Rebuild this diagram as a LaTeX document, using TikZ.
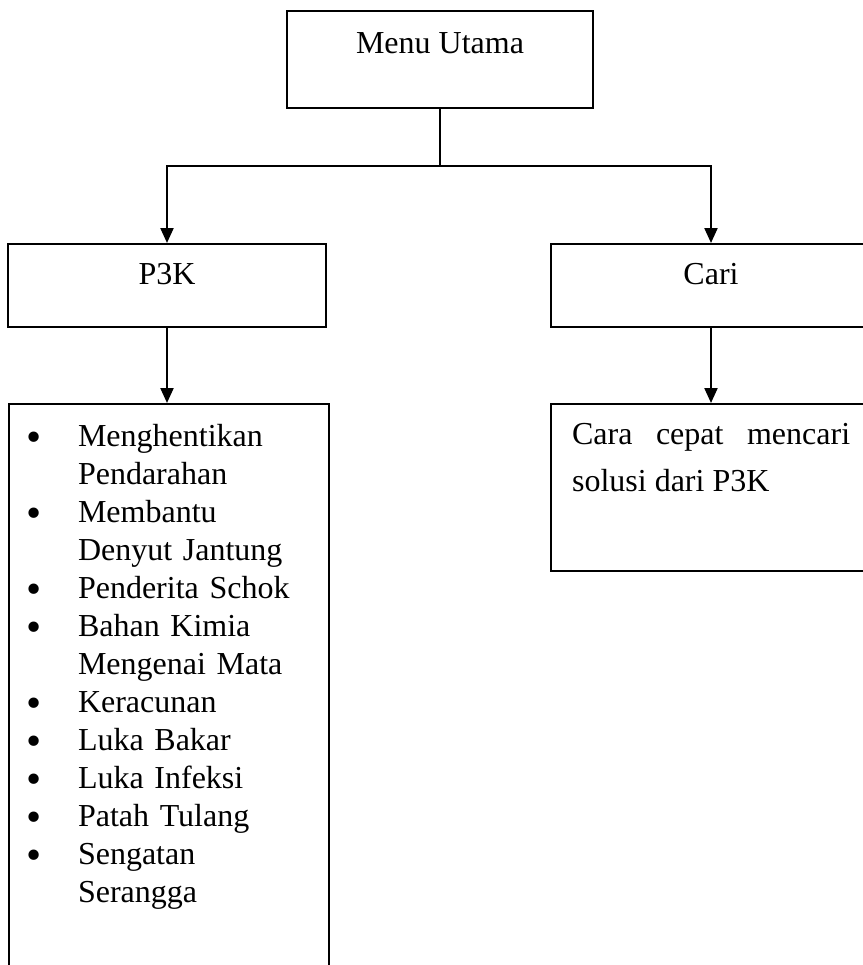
\documentclass[tikz,border=0pt]{standalone}
\usepackage{fontspec}
\setmainfont{Liberation Serif}
\usetikzlibrary{arrows.meta}
\newcommand{\butir}{\raisebox{-2.8pt}{\scalebox{1.35}{•}}}
\begin{document}
\begin{tikzpicture}[x=0.5pt,y=-0.5pt,
    box/.style={draw,line width=1.1pt,inner xsep=0pt,inner ysep=0pt},
    link/.style={line width=1.1pt,-{Triangle[width=6.5pt,length=7.5pt]}}]
    \tikzstyle{every node}+=[font=\fontsize{16}{19}\selectfont]
    \useasboundingbox (0,0) rectangle (863,965);
    \clip (0,0) rectangle (863,965);
    \node [box,anchor=north,minimum width=153pt,text height=21pt,text depth=27.5pt] (menu) at (440,10) {Menu Utama};
    \node [box,anchor=north,minimum width=159pt,text height=20pt,text depth=21.5pt] (p3k) at (167,243) {P3K};
    \node [box,anchor=north,minimum width=160pt,text height=20pt,text depth=21.5pt] (cari) at (711,243) {Cari};
    \node [box,anchor=north west,text width=160pt,text height=21pt,text depth=300pt] (daftar) at (8,403) {%
      \begin{tabular}[t]{@{\hspace{8.7pt}}l@{\hspace{18.2pt}}l@{}}
      \butir & Menghentikan\\
             & Pendarahan\\
      \butir & Membantu\\
             & Denyut Jantung\\
      \butir & Penderita Schok\\
      \butir & Bahan Kimia\\
             & Mengenai Mata\\
      \butir & Keracunan\\
      \butir & Luka Bakar\\
      \butir & Luka Infeksi\\
      \butir & Patah Tulang\\
      \butir & Sengatan\\
             & Serangga
      \end{tabular}};
    \node [box,anchor=north west,inner xsep=10.5pt,text width=139pt,align=justify,text height=20pt,text depth=63.5pt,
      font=\fontsize{16}{23.5}\selectfont] (solusi) at (550,403) {Cara cepat mencari\linebreak solusi dari P3K};
    \coordinate (cabang) at (440,166);
    \draw [line width=1.1pt] (menu.south) -- (cabang);
    \draw [link] (cabang) -| (p3k.north);
    \draw [link] (cabang) -| (cari.north);
    \draw [link] (p3k.south) -- (p3k.south |- daftar.north);
    \draw [link] (cari.south) -- (cari.south |- solusi.north);
\end{tikzpicture}
\end{document}
